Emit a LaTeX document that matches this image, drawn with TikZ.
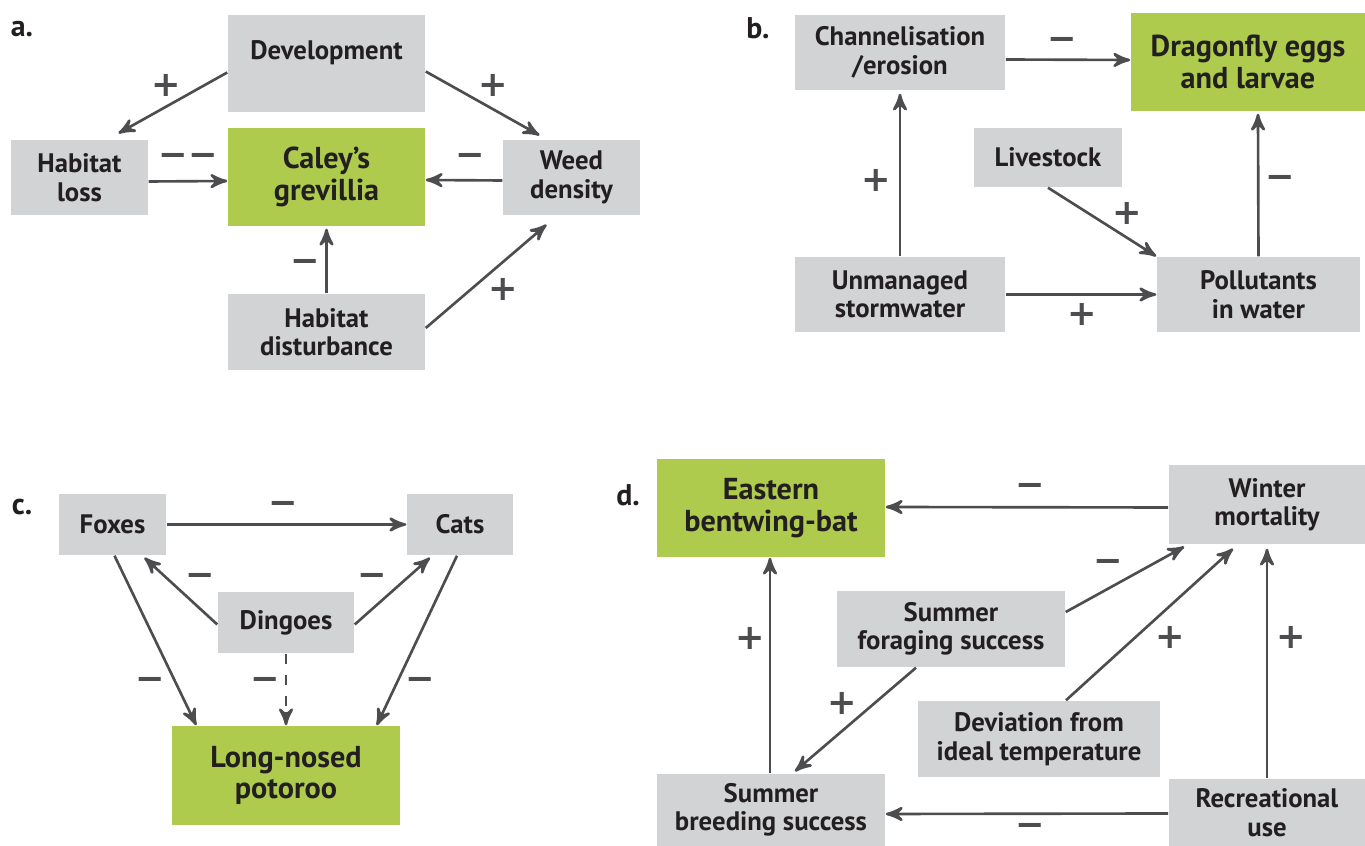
\documentclass[tikz,border=0pt]{standalone}
\usepackage{fontspec}
\setmainfont{PT Sans}
\newfontfamily\signfont{DejaVu Sans}
\usepackage{tikz}
\usetikzlibrary{calc}
\usetikzlibrary{arrows}
\definecolor{boxgrey}{HTML}{D1D3D4}
\definecolor{boxgreen}{HTML}{AFCB4D}
\definecolor{linegrey}{HTML}{4D4D4F}
\definecolor{txtblack}{HTML}{231F20}
\tikzset{
 box/.style={fill=boxgrey, text=txtblack, inner sep=0pt, align=center, font=\bfseries\fontsize{7.6}{8.1}\selectfont},
 target/.style={box, fill=boxgreen, font=\bfseries\fontsize{8.6}{9}\selectfont},
 link/.style={linegrey, line width=0.75pt, ->, >=stealth'},
 sign/.style={text=linegrey, inner sep=0pt, font=\signfont\bfseries\fontsize{10}{10}\selectfont},
 panel/.style={text=txtblack, inner sep=0pt, font=\bfseries\fontsize{8.5}{9}\selectfont},
}

\begin{document}
\begin{tikzpicture}[x=0.01cm, y=-0.01cm]
\useasboundingbox (0,0) rectangle (1365,846);

\node[panel] (la) at (22,29) {a.};
\node[box, minimum width=1.97cm, minimum height=0.97cm] (dev) at (326.5,63.5) {\raisebox{1.2pt}[0pt][0pt]{Development}};
\node[target, minimum width=1.97cm, minimum height=0.98cm] (cal) at (326.5,177) {Caley’s\\grevillia};
\node[box, minimum width=1.37cm, minimum height=0.75cm] (hl) at (79.5,177.5) {Habitat\\loss};
\node[box, minimum width=1.37cm, minimum height=0.75cm] (wd) at (571.5,177.5) {Weed\\density};
\node[box, minimum width=1.97cm, minimum height=0.76cm] (hd) at (326.5,332) {Habitat\\disturbance};
\draw[link] ($(dev.west)+(0,9)$) -- ($(hl.north)+(39,-6)$);
\draw[link] ($(dev.east)+(0,8)$) -- ($(wd.north)+(-32,-4)$);
\draw[link] ($(hl.east)+(0,4)$) -- ($(cal.west)+(0,4)$);
\draw[link] ($(wd.west)+(0,3)$) -- ($(cal.east)+(0,3)$);
\draw[link] (hd.north) -- ($(cal.south)+(0,2)$);
\draw[link] ($(hd.east)+(0,-4)$) -- ($(wd.south)+(-25,9)$);
\node[sign] (sa1) at (166,85) {+};
\node[sign] (sa2) at (493,85) {+};
\node[sign] (sa3) at (188,160) {−−};
\node[sign] (sa4) at (470,160) {−};
\node[sign] (sa5) at (305,266) {−};
\node[sign] (sa6) at (503,289) {+};

\node[panel] (lb) at (758,28) {b.};
\node[box, minimum width=2.10cm, minimum height=0.75cm] (chan) at (900,52.5) {Channelisation\\/erosion};
\node[target, minimum width=2.34cm, minimum height=0.98cm] (drag) at (1248,62) {Dragonfly eggs\\and larvae};
\node[box, minimum width=1.48cm, minimum height=0.59cm] (live) at (1048,157.5) {Livestock};
\node[box, minimum width=2.10cm, minimum height=0.75cm] (unm) at (900,294.5) {Unmanaged\\stormwater};
\node[box, minimum width=2.03cm, minimum height=0.75cm] (poll) at (1258.5,294.5) {Pollutants\\in water};
\draw[link] ($(chan.east)+(0,7)$) -- ($(drag.west)+(0,-2)$);
\draw[link] (unm.north) -- ($(chan.south)+(0,3)$);
\draw[link] (live.south) -- (poll.north west);
\draw[link] (unm.east) -- (poll.west);
\draw[link] (poll.north) -- ($(drag.south)+(10,2)$);
\node[sign] (sb1) at (1062,44) {−};
\node[sign] (sb2) at (876,180) {+};
\node[sign] (sb3) at (1127,213) {+};
\node[sign] (sb4) at (1082,314) {+};
\node[sign] (sb5) at (1280,182) {−};

\node[panel] (lc) at (22,507) {c.};
\node[box, minimum width=1.07cm, minimum height=0.61cm] (fox) at (112.5,524.5) {Foxes};
\node[box, minimum width=1.06cm, minimum height=0.61cm] (cat) at (460,524.5) {Cats};
\node[box, minimum width=1.36cm, minimum height=0.61cm] (din) at (286,622.5) {Dingoes};
\node[target, minimum width=2.28cm, minimum height=0.99cm] (pot) at (286,775.5) {Long-nosed\\potoroo};
\draw[link] (fox.east) -- (cat.west);
\draw[link] ($(din.west)+(0,2)$) -- ($(fox.south)+(32,2)$);
\draw[link] ($(din.east)+(0,2)$) -- ($(cat.south)+(-30,2)$);
\draw[link] ($(fox.south)+(2,0)$) -- ($(pot.north west)+(25,0)$);
\draw[link] ($(cat.south)+(-3,0)$) -- ($(pot.north east)+(-24,0)$);
\draw[link, dashed] (din.south) -- (pot.north);
\node[sign] (sc1) at (283,508) {−};
\node[sign] (sc2) at (200,580) {−};
\node[sign] (sc3) at (372,580) {−};
\node[sign] (sc4) at (150,684) {−};
\node[sign] (sc5) at (265,684) {−};
\node[sign] (sc6) at (420,684) {−};

\node[panel] (ld) at (628,495) {d.};
\node[target, minimum width=2.28cm, minimum height=0.98cm] (bat) at (771,508) {Eastern\\bentwing-bat};
\node[box, minimum width=1.96cm, minimum height=0.79cm] (win) at (1267,504.5) {Winter\\mortality};
\node[box, minimum width=2.28cm, minimum height=0.76cm] (fora) at (951,629) {Summer\\foraging success};
\node[box, minimum width=2.42cm, minimum height=0.76cm] (devi) at (1039,739) {Deviation from\\ideal temperature};
\node[box, minimum width=2.28cm, minimum height=0.72cm] (bree) at (771,810) {Summer\\breeding success};
\node[box, minimum width=1.96cm, minimum height=0.67cm] (rec) at (1267,812.5) {Recreational\\use};
\draw[link] ($(win.west)+(0,3)$) -- ($(bat.east)+(0,-1)$);
\draw[link] ($(bree.north)+(-1,0)$) -- ($(bat.south)+(-1,0)$);
\draw[link] ($(fora.east)+(0,-17)$) -- ($(win.south west)+(16,2)$);
\draw[link] ($(devi.north)+(27,0)$) -- ($(win.south)+(-34,4)$);
\draw[link] (rec.north) -- ($(win.south)+(0,4)$);
\draw[link] ($(fora.south)+(-35,0)$) -- ($(bree.north)+(24,-2)$);
\draw[link] ($(rec.west)+(0,1)$) -- ($(bree.east)+(0,4)$);
\node[sign] (sd1) at (1030,490) {−};
\node[sign] (sd2) at (750,638) {+};
\node[sign] (sd3) at (1108,566) {−};
\node[sign] (sd4) at (1170,637) {+};
\node[sign] (sd5) at (1291,637) {+};
\node[sign] (sd6) at (842,703) {+};
\node[sign] (sd7) at (1030,830) {−};
\end{tikzpicture}
\end{document}
